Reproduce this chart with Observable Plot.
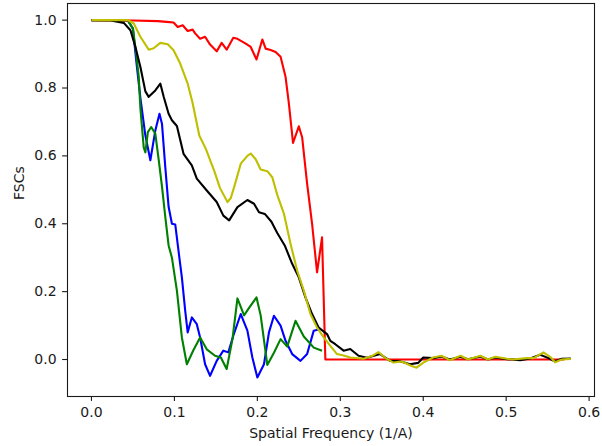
<!DOCTYPE html>
<html>
<head>
<meta charset="utf-8">
<script src="https://cdn.jsdelivr.net/npm/d3@7"></script>
<script src="https://cdn.jsdelivr.net/npm/@observablehq/plot@0.6"></script>
<style>
  html, body { margin: 0; padding: 0; background: #fff; }
</style>
</head>
<body>
<div id="chart"></div>
<script>
// ---- Data ----
const xTicks = [0, 0.1, 0.2, 0.3, 0.4, 0.5, 0.6];
const yTicks = [0, 0.2, 0.4, 0.6, 0.8, 1.0];
const xLabel = "Spatial Frequency (1/A)";
const yLabel = "FSCs";

const freqBlue = [0, 0.03, 0.044, 0.050, 0.054, 0.059, 0.065, 0.071, 0.077, 0.082, 0.085, 0.089, 0.093, 0.097, 0.101, 0.107, 0.109, 0.113, 0.116, 0.121, 0.127, 0.131, 0.137, 0.143, 0.151, 0.159, 0.165, 0.171, 0.180, 0.188, 0.194, 0.200, 0.208, 0.214, 0.220, 0.228, 0.234, 0.242, 0.252, 0.260, 0.268, 0.276];
const fscBlue  = [1.0, 1.0, 0.998, 0.975, 0.88, 0.77, 0.66, 0.587, 0.675, 0.724, 0.695, 0.567, 0.45, 0.40, 0.398, 0.28, 0.242, 0.144, 0.08, 0.124, 0.104, 0.065, -0.014, -0.048, -0.004, 0.026, 0.021, 0.070, 0.134, 0.085, 0.006, -0.053, -0.014, 0.080, 0.129, 0.1, 0.055, 0.016, -0.004, 0.016, 0.085, 0.09];

const freqGreen = [0, 0.044, 0.050, 0.054, 0.057, 0.059, 0.063, 0.065, 0.068, 0.072, 0.077, 0.081, 0.085, 0.089, 0.093, 0.097, 0.103, 0.109, 0.115, 0.123, 0.131, 0.139, 0.149, 0.156, 0.163, 0.170, 0.176, 0.184, 0.190, 0.199, 0.204, 0.212, 0.220, 0.228, 0.236, 0.246, 0.256, 0.268, 0.278];
const fscGreen  = [1.0, 0.998, 0.975, 0.90, 0.833, 0.74, 0.625, 0.61, 0.67, 0.685, 0.665, 0.59, 0.51, 0.42, 0.336, 0.30, 0.203, 0.065, -0.014, 0.028, 0.065, 0.03, 0.011, 0.006, -0.028, 0.06, 0.18, 0.13, 0.152, 0.183, 0.13, -0.016, 0.02, 0.06, 0.038, 0.114, 0.068, 0.035, 0.026];

const freqRed = [0, 0.05, 0.08, 0.094, 0.099, 0.104, 0.110, 0.116, 0.122, 0.125, 0.131, 0.137, 0.143, 0.151, 0.157, 0.163, 0.171, 0.176, 0.186, 0.192, 0.199, 0.206, 0.210, 0.216, 0.222, 0.228, 0.234, 0.238, 0.243, 0.250, 0.254, 0.260, 0.266, 0.272, 0.278, 0.282, 0.57];
const fscRed  = [1.0, 0.999, 0.997, 0.994, 0.993, 0.98, 0.985, 0.968, 0.972, 0.961, 0.945, 0.951, 0.928, 0.908, 0.933, 0.913, 0.948, 0.945, 0.931, 0.921, 0.884, 0.943, 0.916, 0.912, 0.906, 0.892, 0.833, 0.755, 0.638, 0.687, 0.655, 0.518, 0.40, 0.257, 0.36, 0.0, 0.0];

const freqBlack = [0, 0.023, 0.028, 0.039, 0.047, 0.053, 0.059, 0.065, 0.069, 0.077, 0.083, 0.087, 0.093, 0.097, 0.103, 0.111, 0.121, 0.127, 0.139, 0.151, 0.159, 0.166, 0.176, 0.188, 0.196, 0.202, 0.209, 0.217, 0.224, 0.233, 0.242, 0.250, 0.258, 0.266, 0.274, 0.284, 0.288, 0.294, 0.304, 0.312, 0.322, 0.332, 0.348, 0.360, 0.372, 0.384, 0.394, 0.400, 0.412, 0.422, 0.432, 0.445, 0.454, 0.469, 0.478, 0.487, 0.501, 0.517, 0.529, 0.541, 0.551, 0.559, 0.567, 0.578];
const fscBlack  = [1.0, 1.0, 0.997, 0.992, 0.97, 0.921, 0.862, 0.79, 0.774, 0.793, 0.813, 0.775, 0.724, 0.705, 0.688, 0.606, 0.572, 0.533, 0.498, 0.464, 0.424, 0.41, 0.449, 0.470, 0.459, 0.434, 0.429, 0.406, 0.373, 0.336, 0.282, 0.242, 0.183, 0.134, 0.094, 0.075, 0.055, 0.045, 0.026, 0.031, 0.011, 0.005, 0.016, -0.004, -0.005, -0.014, -0.01, 0.006, 0.004, 0.009, 0.0, 0.008, 0.001, 0.009, 0.0, 0.006, 0.001, -0.002, 0.003, 0.014, 0.004, -0.006, 0.002, 0.003];

const freqYellow = [0, 0.044, 0.051, 0.059, 0.069, 0.075, 0.083, 0.092, 0.099, 0.107, 0.116, 0.122, 0.130, 0.138, 0.148, 0.155, 0.164, 0.168, 0.172, 0.180, 0.188, 0.192, 0.198, 0.204, 0.212, 0.218, 0.224, 0.232, 0.240, 0.248, 0.256, 0.264, 0.272, 0.280, 0.288, 0.296, 0.304, 0.312, 0.328, 0.338, 0.346, 0.354, 0.364, 0.374, 0.386, 0.392, 0.400, 0.412, 0.422, 0.432, 0.445, 0.454, 0.469, 0.478, 0.487, 0.501, 0.508, 0.525, 0.533, 0.545, 0.553, 0.559, 0.567, 0.578];
const fscYellow  = [1.0, 1.0, 0.99, 0.951, 0.913, 0.917, 0.933, 0.929, 0.911, 0.872, 0.813, 0.755, 0.66, 0.62, 0.556, 0.505, 0.464, 0.476, 0.508, 0.577, 0.60, 0.607, 0.59, 0.56, 0.555, 0.537, 0.485, 0.43, 0.341, 0.262, 0.203, 0.134, 0.094, 0.065, 0.04, 0.016, 0.012, 0.006, 0.002, 0.01, 0.022, 0.005, -0.009, -0.006, -0.019, -0.024, -0.009, 0.006, 0.011, -0.002, 0.011, 0.0, 0.011, 0.0, 0.008, 0.002, 0.0, 0.004, 0.004, 0.021, 0.008, -0.008, 0.0, 0.002];

// drawing order: blue, green, red, black, yellow (yellow on top)
const series = [
  {color: "#0000ff", fx: freqBlue,   fy: fscBlue},
  {color: "#008000", fx: freqGreen,  fy: fscGreen},
  {color: "#ff0000", fx: freqRed,    fy: fscRed},
  {color: "#000000", fx: freqBlack,  fy: fscBlack},
  {color: "#bfbf00", fx: freqYellow, fy: fscYellow}
];

const lineMarks = series.map(s =>
  Plot.line(s.fx.map((f, i) => ({f, v: s.fy[i]})), {
    x: "f", y: "v", stroke: s.color, strokeWidth: 2.1, strokeLinejoin: "round", strokeLinecap: "butt"
  })
);

const chart = Plot.plot({
  width: 602,
  height: 446,
  marginLeft: 67,
  marginRight: 8,
  marginTop: 3,
  marginBottom: 50,
  style: {fontFamily: "DejaVu Sans", fontSize: "14px", background: "white", color: "#1a1a1a"},
  x: {domain: [-0.0289, 0.6065]},
  y: {domain: [-0.109, 1.049]},
  marks: [
    ...lineMarks,
    Plot.frame({stroke: "#1a1a1a", strokeWidth: 1.1}),
    Plot.axisX({ticks: xTicks, tickFormat: d3.format(".1f"), tickSize: 4.9, tickPadding: 6, label: null, fontSize: 14, strokeWidth: 1.1}),
    Plot.axisY({ticks: yTicks, tickFormat: d3.format(".1f"), tickSize: 4.9, tickPadding: 6, label: null, fontSize: 14, strokeWidth: 1.1}),
    Plot.text([xLabel], {text: d => d, frameAnchor: "bottom", lineAnchor: "bottom", dy: 41.5, fontSize: 14, fill: "#1a1a1a"}),
    Plot.text([yLabel], {text: d => d, frameAnchor: "left", rotate: -90, lineAnchor: "bottom", dx: -44, fontSize: 14, fill: "#1a1a1a"})
  ]
});

document.getElementById("chart").appendChild(chart);
</script>
</body>
</html>
